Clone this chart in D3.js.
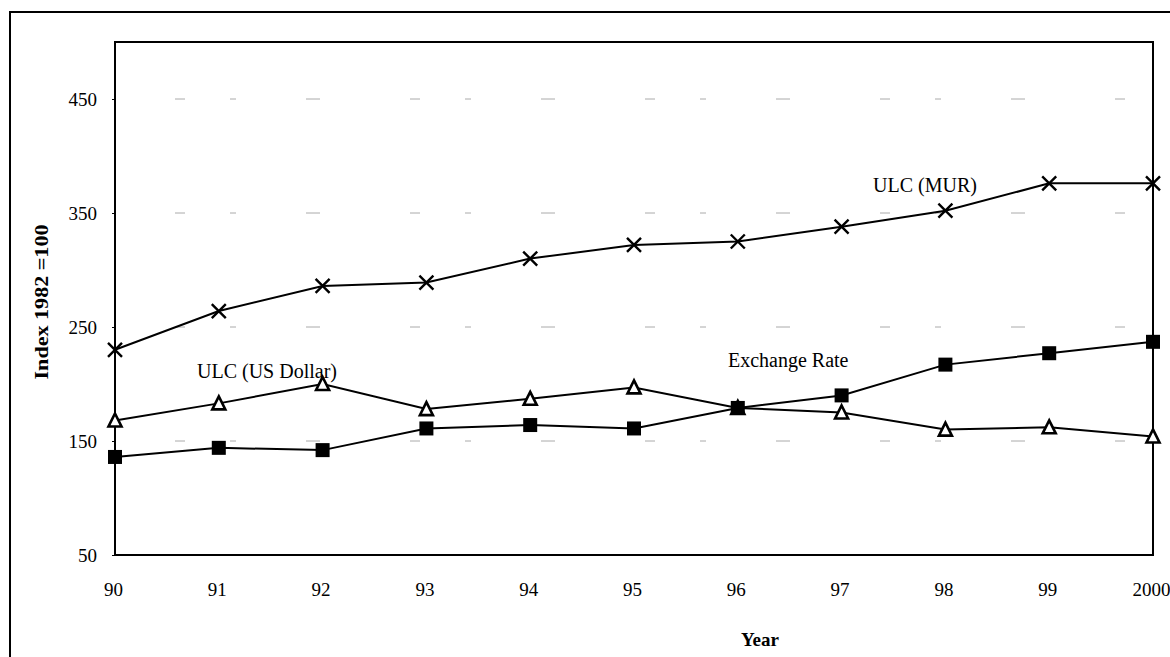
<!DOCTYPE html>
<html>
<head>
<meta charset="utf-8">
<script src="https://cdn.jsdelivr.net/npm/d3@7"></script>
<style>
  body { margin: 0; background: #fff; }
  svg { display: block; font-family: "Liberation Serif", "DejaVu Serif", serif; }
</style>
</head>
<body>
<svg id="chart" width="1170" height="657"></svg>
<script>
// Inline data
const years = ["90", "91", "92", "93", "94", "95", "96", "97", "98", "99", "2000"];
const ulcMur = [230, 264, 286, 289, 310, 322, 325, 338, 352, 376, 376];
const ulcUsd = [168, 183, 200, 178, 187, 197, 179, 175, 160, 162, 154];
const exchangeRate = [136, 144, 142, 161, 164, 161, 179, 190, 217, 227, 237];
const yTicks = [50, 150, 250, 350, 450];

const width = 1170;
const height = 657;
const margin = { top: 42, right: 15, bottom: 102, left: 115 };

const svg = d3.select("#chart");

const x = d3.scalePoint().domain(years).range([margin.left, width - margin.right - 2]);
const y = d3.scaleLinear().domain([50, 500]).range([height - margin.bottom, margin.top]);

// outer frame
svg.append("path")
  .attr("d", `M10,${height + 5} V12 H${width + 5}`)
  .attr("fill", "none").attr("stroke", "#000").attr("stroke-width", 2);

// faint scanned-looking gridlines
svg.append("g")
  .selectAll("line")
  .data(yTicks.slice(1))
  .join("line")
  .attr("x1", margin.left + 60).attr("x2", width - margin.right - 10)
  .attr("y1", d => y(d)).attr("y2", d => y(d))
  .attr("stroke", "#aaa").attr("stroke-width", 1)
  .attr("stroke-dasharray", "10 45 6 70 14 90");

// plot box
svg.append("rect")
  .attr("x", margin.left).attr("y", margin.top)
  .attr("width", x.range()[1] - margin.left)
  .attr("height", y(50) - margin.top)
  .attr("fill", "none").attr("stroke", "#000").attr("stroke-width", 2);

// y axis
const yAxis = svg.append("g")
  .attr("transform", `translate(${margin.left},0)`)
  .call(d3.axisLeft(y).tickValues(yTicks).tickSize(3).tickPadding(15));
yAxis.select(".domain").remove();
yAxis.selectAll("text").attr("font-size", 19).attr("font-family", "Liberation Serif");

// x axis
const xAxis = svg.append("g")
  .attr("transform", `translate(0,${y(50)})`)
  .call(d3.axisBottom(x).tickSize(0).tickPadding(28));
xAxis.select(".domain").remove();
xAxis.selectAll("text").attr("font-size", 19).attr("font-family", "Liberation Serif")
  .attr("dx", "-2");

// axis titles
svg.append("text")
  .attr("transform", `translate(48,302) rotate(-90)`)
  .attr("text-anchor", "middle")
  .attr("font-size", 19).attr("font-weight", "bold")
  .attr("textLength", 155).attr("lengthAdjust", "spacingAndGlyphs")
  .text("Index 1982 =100");

svg.append("text")
  .attr("x", 760).attr("y", 646)
  .attr("text-anchor", "middle")
  .attr("font-size", 19).attr("font-weight", "bold")
  .text("Year");

const line = d3.line().x((d, i) => x(years[i])).y(d => y(d));

function drawLine(values) {
  svg.append("path")
    .datum(values)
    .attr("d", line)
    .attr("fill", "none").attr("stroke", "#000").attr("stroke-width", 2);
}

drawLine(ulcMur);
drawLine(ulcUsd);
drawLine(exchangeRate);

// markers
svg.append("g").selectAll("path")
  .data(ulcMur)
  .join("path")
  .attr("transform", (d, i) => `translate(${x(years[i])},${y(d)})`)
  .attr("d", "M-7,-7L7,7M-7,7L7,-7")
  .attr("stroke", "#000").attr("stroke-width", 2.4);

svg.append("g").selectAll("path")
  .data(ulcUsd)
  .join("path")
  .attr("transform", (d, i) => `translate(${x(years[i])},${y(d)})`)
  .attr("d", "M0,-7L6.5,6L-6.5,6Z")
  .attr("fill", "#fff").attr("stroke", "#000").attr("stroke-width", 2.6);

svg.append("g").selectAll("rect")
  .data(exchangeRate)
  .join("rect")
  .attr("x", (d, i) => x(years[i]) - 7)
  .attr("y", d => y(d) - 7)
  .attr("width", 14).attr("height", 14)
  .attr("fill", "#000");

// series labels
const labels = [
  { text: "ULC (MUR)", x: 873, y: 192 },
  { text: "ULC (US Dollar)", x: 197, y: 378 },
  { text: "Exchange Rate", x: 728, y: 367 }
];
svg.append("g").selectAll("text")
  .data(labels)
  .join("text")
  .attr("x", d => d.x).attr("y", d => d.y)
  .attr("font-size", 20)
  .text(d => d.text);
</script>
</body>
</html>
